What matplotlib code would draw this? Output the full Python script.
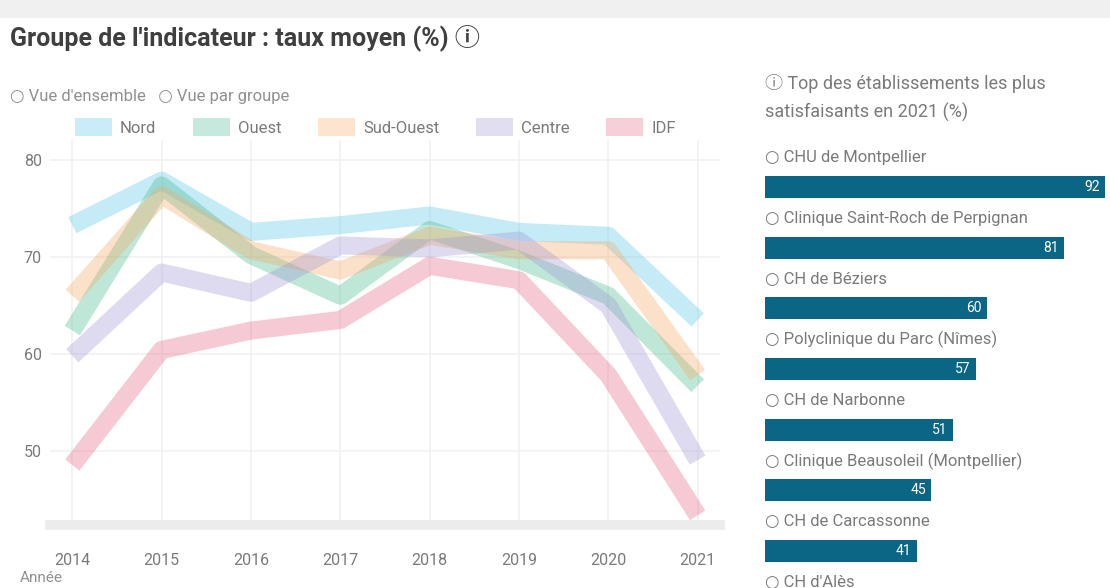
import matplotlib
matplotlib.use("Agg")
import matplotlib.pyplot as plt
from matplotlib.patches import Patch, Rectangle

plt.rcParams['font.family'] = ['Roboto', 'DejaVu Sans', 'Noto Sans CJK SC']

# data
years = ["2014", "2015", "2016", "2017", "2018", "2019", "2020", "2021"]
series_names = ["Nord", "Ouest", "Sud-Ouest", "Centre", "IDF"]
nord = [73.3, 77.9, 72.6, 73.3, 74.3, 72.6, 72.2, 63.5]
ouest = [62.4, 77.4, 70.2, 66.0, 72.8, 69.7, 66.0, 56.7]
sud_ouest = [66.0, 76.4, 70.7, 68.6, 72.2, 70.7, 70.7, 57.8]
centre = [59.8, 68.4, 66.3, 71.2, 70.9, 71.7, 65.0, 49.0]
idf = [48.5, 60.4, 62.4, 63.5, 69.1, 67.6, 57.8, 43.3]
series_values = [nord, ouest, sud_ouest, centre, idf]
y_ticks = [50, 60, 70, 80]

bar_labels = ["CHU de Montpellier", "Clinique Saint-Roch de Perpignan", "CH de Béziers",
              "Polyclinique du Parc (Nîmes)", "CH de Narbonne", "Clinique Beausoleil (Montpellier)",
              "CH de Carcassonne", "CH d'Alès"]
bar_values = [92, 81, 60, 57, 51, 45, 41, 38]

colors = ["#4fc3e8", "#3fb98b", "#f7a660", "#9d93d3", "#e2607f"]
grey = "#7a7a7a"

W, H = 1110, 588
fig = plt.figure(figsize=(W / 100, H / 100), dpi=100)
fig.patches.append(Rectangle((0, 1 - 18 / H), 1, 18 / H, transform=fig.transFigure,
                             facecolor="#f0f0f0", edgecolor="none", zorder=0))

fig.text(10 / W, 1 - 38 / H, "Groupe de l'indicateur : taux moyen (%) ⓘ", fontsize=18,
         fontweight="bold", color="#3f3f3f", va="center")
fig.text(10 / W, 1 - 97 / H, "○ Vue d'ensemble   ○ Vue par groupe", fontsize=12,
         color="#909090", va="center")

# line chart
ax = fig.add_axes([50 / W, 1 - 525 / H, 670 / W, 385 / H])
x = list(range(len(years)))
for vals, c in zip(series_values, colors):
    ax.plot(x, vals, color=c, lw=13, alpha=0.33, solid_joinstyle="round",
            solid_capstyle="butt")
ax.set_xlim(-0.25, len(years) - 0.75)
ax.set_ylim(42.3, 82.1)
ax.set_xticks(x)
ax.set_xticklabels(years)
ax.set_yticks(y_ticks)
ax.grid(True, color="#f1f1f1", lw=1.2)
ax.set_axisbelow(True)
for s in ["top", "right", "left"]:
    ax.spines[s].set_visible(False)
ax.spines["bottom"].set_color("#ececec")
ax.spines["bottom"].set_linewidth(7)
ax.tick_params(length=0, colors=grey, labelsize=11.5)
ax.tick_params(axis="x", pad=20)
ax.tick_params(axis="y", pad=6)

handles = [Patch(facecolor=c, alpha=0.3, edgecolor="none") for c in colors]
fig.legend(handles, series_names, loc="center left", bbox_to_anchor=(60 / W, 1 - 127 / H),
           ncol=5, frameon=False, fontsize=12, labelcolor=grey, handlelength=2.2,
           handleheight=1.3, columnspacing=2.2, handletextpad=0.5)

fig.text(20 / W, 1 - 578 / H, "Année", fontsize=11, color="#909090", va="center")

# bar panel
fig.text(765 / W, 1 - 98 / H, "ⓘ Top des établissements les plus\nsatisfaisants en 2021 (%)",
         fontsize=13, color=grey, va="center", linespacing=1.6)

bx = fig.add_axes([765 / W, 0, 345 / W, 448 / H])
rows = list(range(len(bar_values)))
bx.barh(rows, bar_values, height=0.36, color="#0b6584")
bx.set_xlim(0, bar_values[0] * 345 / 340)
bx.set_ylim(6.61, -0.774)
for i, (lab, v) in enumerate(zip(bar_labels, bar_values)):
    bx.text(0, i - 0.48, "○ " + lab, fontsize=12, color=grey, va="center", ha="left")
    if i < 7:
        bx.text(v - 1.5, i, f"{v}", fontsize=10, color="white", va="center", ha="right")
bx.axis("off")

fig.savefig("out.png", dpi=100)
